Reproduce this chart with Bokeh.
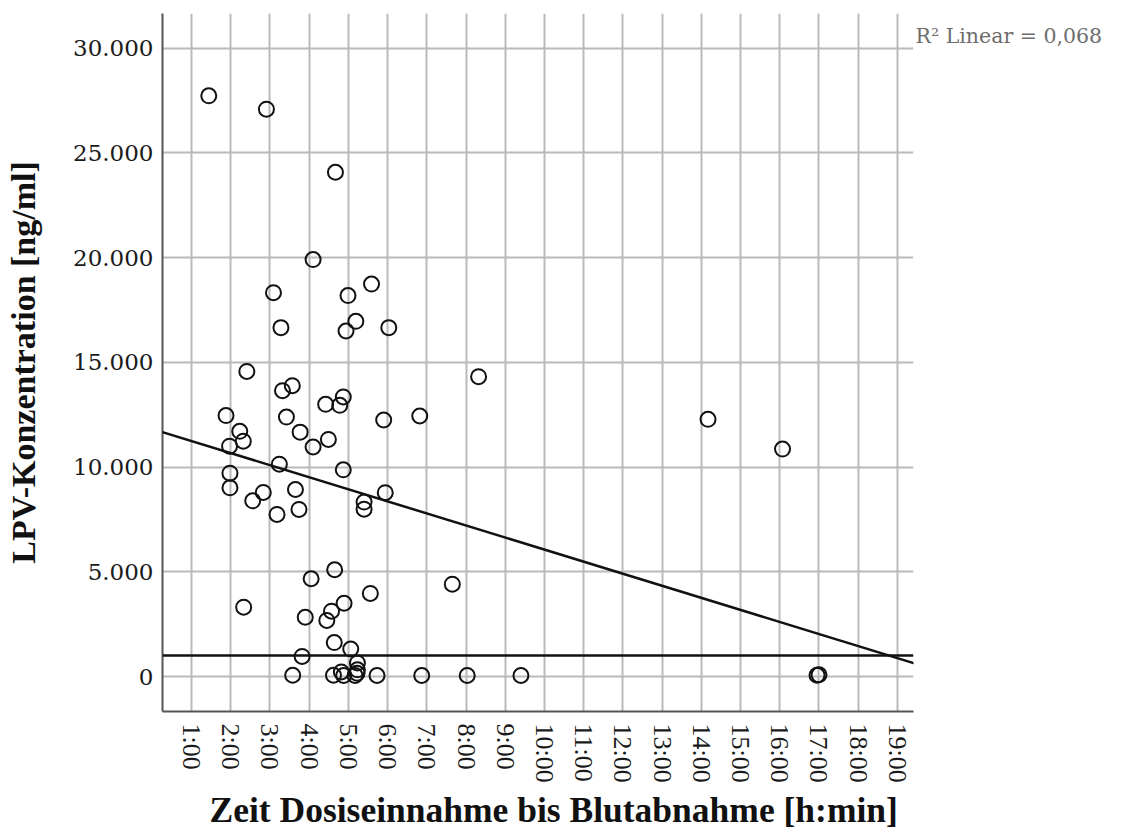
import math
from bokeh.plotting import figure
from bokeh.layouts import row
from bokeh.models import FixedTicker, Slope, Span, Label, Range1d, Title
from bokeh.embed import file_html
from bokeh.resources import INLINE

# Hours between dose and blood sample
hours = [1.44, 2.91, 4.67, 4.10, 3.09, 4.99, 5.59, 3.28, 5.19, 4.94, 6.03, 2.41, 3.57, 3.32,
         4.87, 4.42, 4.78, 1.88, 3.42, 5.90, 6.82, 2.23, 3.77, 1.97, 2.32, 4.10, 4.49, 3.24,
         4.87, 1.98, 1.98, 2.83, 2.56, 3.65, 5.94, 5.40, 5.40, 3.74, 3.18, 8.32, 14.17, 16.07,
         4.65, 4.05, 5.56, 7.65, 2.33, 4.89, 4.57, 4.45, 3.90, 4.64, 5.06, 3.82, 5.23, 5.23,
         3.58, 4.62, 4.82, 4.88, 5.17, 5.22, 5.73, 6.87, 8.03, 9.40, 16.95, 17.00]
# LPV concentration [ng/ml]
conc = [27730, 27090, 24080, 19910, 18330, 18190, 18740, 16660, 16960, 16500, 16660, 14570,
        13890, 13650, 13350, 13000, 12950, 12460, 12390, 12250, 12440, 11710, 11670, 11000,
        11240, 10960, 11320, 10140, 9870, 9710, 9010, 8790, 8390, 8930, 8780, 8330, 7990,
        7980, 7740, 14320, 12280, 10860, 5100, 4670, 3970, 4410, 3310, 3500, 3120, 2680,
        2830, 1620, 1310, 960, 650, 320, 60, 60, 220, 50, 50, 160, 50, 50, 50, 50, 60, 80]

fit_intercept = 11820
fit_slope = -576
reference_level = 1000
r2_text = "R\u00b2 Linear = 0,068"
x_title = "Zeit Dosiseinnahme bis Blutabnahme [h:min]"
y_title = "LPV-Konzentration [ng/ml]"

x_ticks = list(range(1, 20))
x_tick_labels = [f"{h}:00" for h in x_ticks]
y_ticks = [0, 5000, 10000, 15000, 20000, 25000, 30000]
y_tick_labels = ["0", "5.000", "10.000", "15.000", "20.000", "25.000", "30.000"]

p = figure(width=914, height=832, output_backend="svg", toolbar_location=None,
           x_range=Range1d(0.26, 19.41), y_range=Range1d(-1670, 31660),
           min_border_left=162, min_border_right=1, min_border_top=13, min_border_bottom=121)
p.outline_line_color = None
p.background_fill_color = "white"

grid_col = "#bababa"
p.xgrid.ticker = FixedTicker(ticks=x_ticks)
p.ygrid.ticker = FixedTicker(ticks=y_ticks)
for g in (p.xgrid, p.ygrid):
    g.grid_line_color = grid_col
    g.grid_line_width = 2

p.xaxis.ticker = FixedTicker(ticks=x_ticks)
p.xaxis.major_label_overrides = {t: l for t, l in zip(x_ticks, x_tick_labels)}
p.xaxis.major_label_orientation = -math.pi / 2
p.yaxis.ticker = FixedTicker(ticks=y_ticks)
p.yaxis.major_label_overrides = {t: l for t, l in zip(y_ticks, y_tick_labels)}

for ax in (p.xaxis, p.yaxis):
    ax.axis_line_color = "#555555"
    ax.axis_line_width = 2
    ax.major_tick_line_color = None
    ax.minor_tick_line_color = None
    ax.major_tick_out = 0
    ax.major_tick_in = 0
    ax.minor_tick_out = 0
    ax.major_label_text_color = "#1a1a1a"

p.yaxis.major_label_text_font = "DejaVu Serif"
p.yaxis.major_label_text_font_size = "23px"
p.yaxis.major_label_standoff = 9
p.xaxis.major_label_text_font = "Liberation Serif"
p.xaxis.major_label_text_font_size = "26px"
p.xaxis.major_label_standoff = 12

p.yaxis.axis_label = y_title
p.yaxis.axis_label_text_font = "Liberation Serif"
p.yaxis.axis_label_text_font_style = "bold"
p.yaxis.axis_label_text_font_size = "34px"
p.yaxis.axis_label_text_color = "#111111"
p.yaxis.axis_label_standoff = 28

p.add_layout(Title(text=x_title, align="left", offset=47, standoff=4,
                   text_font="Liberation Serif", text_font_style="bold",
                   text_font_size="35.5px", text_color="#111111"), "below")

p.add_layout(Span(location=reference_level, dimension="width", line_color="#111111", line_width=2.5))
p.add_layout(Slope(gradient=fit_slope, y_intercept=fit_intercept, line_color="#111111", line_width=2.5))

p.scatter(hours, conc, size=15, marker="circle", fill_color=None, line_color="#111111", line_width=2)

side = figure(width=215, height=832, output_backend="svg", toolbar_location=None,
              x_range=Range1d(0, 215), y_range=Range1d(0, 832),
              min_border_left=0, min_border_right=0, min_border_top=0, min_border_bottom=0)
side.axis.visible = False
side.grid.visible = False
side.outline_line_color = None
side.add_layout(Label(x=1, y=805, text=r2_text, text_font="DejaVu Serif", text_font_size="20.5px",
                      text_color="#6e6e6e", text_baseline="middle", text_align="left"))

layout = row(p, side)
open("out.html", "w").write(file_html(layout, INLINE))
